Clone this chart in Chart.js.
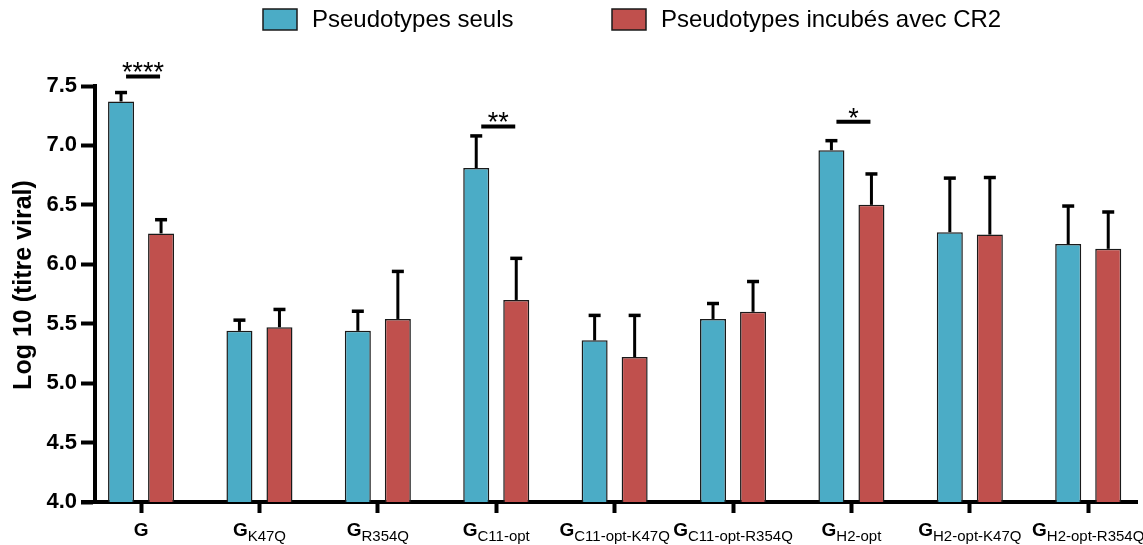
<!DOCTYPE html>
<html>
<head>
<meta charset="utf-8">
<script src="https://cdn.jsdelivr.net/npm/chart.js@4.4.0/dist/chart.umd.min.js"></script>
<style>
  html, body { margin: 0; padding: 0; background: #fff; }
  #wrap { width: 1143px; height: 545px; }
</style>
</head>
<body>
<div id="wrap"><canvas id="chart" width="1143" height="545"></canvas></div>
<script>
const groupNames = ["G", "G", "G", "G", "G", "G", "G", "G", "G"];
const groupSubs = ["", "K47Q", "R354Q", "C11-opt", "C11-opt-K47Q", "C11-opt-R354Q", "H2-opt", "H2-opt-K47Q", "H2-opt-R354Q"];
const seriesLabels = ["Pseudotypes seuls", "Pseudotypes incubés avec CR2"];
const aloneMeans = [7.37, 5.44, 5.44, 6.81, 5.36, 5.54, 6.96, 6.27, 6.17];
const aloneErrors = [0.075, 0.09, 0.165, 0.27, 0.21, 0.13, 0.08, 0.455, 0.32];
const cr2Means = [6.26, 5.47, 5.54, 5.70, 5.22, 5.60, 6.50, 6.25, 6.13];
const cr2Errors = [0.115, 0.15, 0.40, 0.35, 0.35, 0.255, 0.26, 0.48, 0.31];
const sigMarks = ["****", "", "", "**", "", "", "*", "", ""];
const sigLevels = [7.58, null, null, 7.16, null, null, 7.2, null, null];
const yTitle = "Log 10 (titre viral)";

(function () {
  "use strict";

  const BLUE = "#4bacc6";
  const RED = "#c0504d";
  const EDGE = "#1a1a1a";
  const FONT = "'Liberation Sans', Arial, sans-serif";

  const toPoints = (means) => means.map((v, i) => ({x: i, y: v}));

  const errorBars = {
    id: "errorBars",
    afterDatasetsDraw(chart) {
      const {ctx, scales: {y}} = chart;
      const errs = [aloneErrors, cr2Errors];
      const means = [aloneMeans, cr2Means];
      ctx.save();
      ctx.strokeStyle = "#000";
      ctx.lineCap = "butt";
      chart.data.datasets.forEach((ds, d) => {
        const meta = chart.getDatasetMeta(d);
        meta.data.forEach((bar, i) => {
          const top = y.getPixelForValue(means[d][i]);
          const cap = y.getPixelForValue(means[d][i] + errs[d][i]);
          ctx.lineWidth = 3;
          ctx.beginPath();
          ctx.moveTo(bar.x, top);
          ctx.lineTo(bar.x, cap);
          ctx.stroke();
          ctx.lineWidth = 3.5;
          ctx.beginPath();
          ctx.moveTo(bar.x - 6, cap);
          ctx.lineTo(bar.x + 6, cap);
          ctx.stroke();
        });
      });
      ctx.restore();
    },
  };

  const decorations = {
    id: "decorations",
    afterDraw(chart) {
      const {ctx, scales: {x, y}, chartArea} = chart;
      ctx.save();

      // x axis runs a little past the y axis on the left
      ctx.strokeStyle = "#000";
      ctx.lineWidth = 4;
      ctx.beginPath();
      ctx.moveTo(81, chartArea.bottom);
      ctx.lineTo(chartArea.left, chartArea.bottom);
      ctx.stroke();

      // significance bars
      ctx.fillStyle = "#000";
      ctx.textAlign = "center";
      ctx.textBaseline = "alphabetic";
      ctx.font = `27px ${FONT}`;
      sigMarks.forEach((mark, i) => {
        if (!mark) return;
        const cx = x.getPixelForValue(i) + 2;
        const ly = y.getPixelForValue(sigLevels[i]);
        ctx.lineWidth = 4;
        ctx.beginPath();
        ctx.moveTo(cx - 17, ly);
        ctx.lineTo(cx + 17, ly);
        ctx.stroke();
        ctx.fillText(mark, cx, ly + 5);
      });

      // category labels with subscripts
      groupNames.forEach((name, i) => {
        const cx = x.getPixelForValue(i);
        ctx.font = `bold 19px ${FONT}`;
        const wMain = ctx.measureText(name).width;
        ctx.font = `15px ${FONT}`;
        const wSub = ctx.measureText(groupSubs[i]).width;
        const left = cx - (wMain + wSub) / 2;
        ctx.textAlign = "left";
        ctx.font = `bold 19px ${FONT}`;
        ctx.fillText(name, left, 536);
        ctx.font = `15px ${FONT}`;
        ctx.fillText(groupSubs[i], left + wMain, 541);
      });

      // y axis title
      ctx.save();
      ctx.translate(24, 285);
      ctx.rotate(-Math.PI / 2);
      ctx.textAlign = "center";
      ctx.textBaseline = "middle";
      ctx.font = `bold 25px ${FONT}`;
      ctx.fillText(yTitle, 0, 0);
      ctx.restore();

      // legend
      const colors = [BLUE, RED];
      const boxX = [263, 612];
      ctx.font = `24px ${FONT}`;
      ctx.textAlign = "left";
      ctx.textBaseline = "middle";
      seriesLabels.forEach((label, d) => {
        ctx.fillStyle = colors[d];
        ctx.fillRect(boxX[d], 9, 34, 21);
        ctx.strokeStyle = EDGE;
        ctx.lineWidth = 1.5;
        ctx.strokeRect(boxX[d], 9, 34, 21);
        ctx.fillStyle = "#000";
        ctx.fillText(label, boxX[d] + 49, 20);
      });

      ctx.restore();
    },
  };

  new Chart(document.getElementById("chart"), {
    type: "bar",
    data: {
      datasets: [
        {
          label: seriesLabels[0],
          data: toPoints(aloneMeans),
          backgroundColor: BLUE,
          borderColor: EDGE,
          borderWidth: 1.5,
        },
        {
          label: seriesLabels[1],
          data: toPoints(cr2Means),
          backgroundColor: RED,
          borderColor: EDGE,
          borderWidth: 1.5,
        },
      ],
    },
    options: {
      responsive: false,
      animation: false,
      devicePixelRatio: 1,
      categoryPercentage: 0.676,
      barPercentage: 0.65,
      layout: {padding: {top: 86, right: 6, left: 0, bottom: 0}},
      plugins: {legend: {display: false}, tooltip: {enabled: false}},
      scales: {
        x: {
          type: "linear",
          min: -0.389,
          max: 8.412,
          offset: false,
          z: 1,
          afterBuildTicks(scale) {
            scale.ticks = groupNames.map((_, i) => ({value: i}));
          },
          afterFit(scale) {
            scale.height = 43;
          },
          ticks: {display: false},
          grid: {
            offset: false,
            drawOnChartArea: false,
            drawTicks: true,
            tickLength: 11,
            tickWidth: 4,
            tickColor: "#000",
          },
          border: {display: true, color: "#000", width: 4},
        },
        y: {
          min: 4,
          max: 7.5,
          z: 1,
          afterFit(scale) {
            scale.width = 95;
          },
          ticks: {
            stepSize: 0.5,
            padding: 4,
            color: "#000",
            font: {family: FONT, size: 22, weight: "bold"},
            callback: (v) => Number(v).toFixed(1),
          },
          grid: {
            drawOnChartArea: false,
            drawTicks: true,
            tickLength: 14,
            tickWidth: 4,
            tickColor: "#000",
          },
          border: {display: true, color: "#000", width: 4},
        },
      },
    },
    plugins: [errorBars, decorations],
  });
})();
</script>
</body>
</html>
